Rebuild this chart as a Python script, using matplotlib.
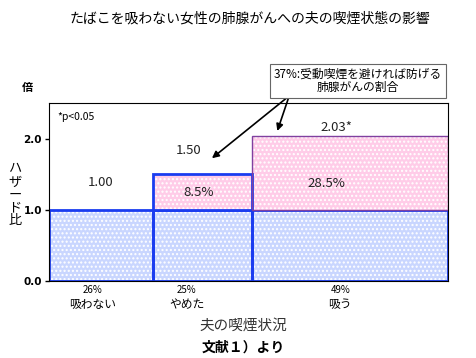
import matplotlib.pyplot as plt

plt.rcParams['font.family'] = ['Noto Sans CJK JP', 'DejaVu Sans']

# 夫の喫煙状況ごとの割合(棒の幅)とハザード比
groups = ["吸わない", "やめた", "吸う"]
shares = [26, 25, 49]
hazard = [1.00, 1.50, 2.03]
hazard_labels = ["1.00", "1.50", "2.03*"]
excess_labels = ["", "8.5%", "28.5%"]
share_labels = ["26%", "25%", "49%"]

fig = plt.figure(figsize=(4.77, 3.58), dpi=100)
ax = fig.add_axes([49 / 477, 1 - 281 / 358, 399 / 477, 178 / 358])

lefts = [sum(shares[:i]) for i in range(len(shares))]
base = [1.0] * len(shares)
extra = [h - 1.0 for h in hazard]

# 下段: 基準(1.0)部分
ax.bar(lefts, base, width=shares, align="edge", color="#c9d6ff", linewidth=0)
ax.bar(lefts, base, width=shares, align="edge", color="none", hatch="....",
       edgecolor="white", linewidth=0)
ax.bar(lefts, base, width=shares, align="edge", color="none", edgecolor="#1a3cf0", linewidth=2)

# 上段: 受動喫煙による増加分
ax.bar(lefts[1:], extra[1:], bottom=1.0, width=shares[1:], align="edge", color="#ffcce8", linewidth=0)
ax.bar(lefts[1:], extra[1:], bottom=1.0, width=shares[1:], align="edge", color="none", hatch="....",
       edgecolor="white", linewidth=0)
ax.bar(lefts[1:], extra[1:], bottom=1.0, width=shares[1:], align="edge", color="none",
       edgecolor=["#1a3cf0", "#8040a0"], linewidth=[2, 1])

ax.set_xlim(0, 100)
ax.set_ylim(0, 2.5)
ax.set_yticks([0.0, 1.0, 2.0])
ax.set_yticklabels(["0.0", "1.0", "2.0"], fontweight="bold", fontsize=7.5, family="DejaVu Sans")
ax.set_xticks([])
ax.tick_params(axis="y", length=3, width=1, pad=2)
for s in ax.spines.values():
    s.set_linewidth(0.8)

# ハザード比の数値
hx = [13, 35, 72]
hy = [1.38, 1.83, 2.15]
for x, y, t in zip(hx, hy, hazard_labels):
    ax.text(x, y, t, ha="center", va="center", fontsize=9.5, color="#222222")

ex = [0, 37.5, 69.5]
ey = [0, 1.25, 1.37]
for x, y, t in zip(ex, ey, excess_labels):
    if t:
        ax.text(x, y, t, ha="center", va="center", fontsize=9.5, color="#222222")

ax.text(2, 2.31, "*p<0.05", ha="left", va="center", fontsize=7.5)

# 下の割合と区分
lx = [11, 34.5, 73]
for x, s, g in zip(lx, share_labels, groups):
    ax.text(x, -0.12, s, ha="center", va="center", fontsize=7)
    ax.text(x, -0.33, g, ha="center", va="center", fontsize=8.5)

# 注釈と矢印
ax.annotate("", xy=(40.3, 1.70), xytext=(60.2, 2.6),
            arrowprops=dict(arrowstyle="-|>", color="black", lw=1.2, mutation_scale=10),
            annotation_clip=False)
ax.annotate("", xy=(57.0, 2.07), xytext=(60.2, 2.6),
            arrowprops=dict(arrowstyle="-|>", color="black", lw=1.2, mutation_scale=10),
            annotation_clip=False)
fig.text(358 / 477, 1 - 81 / 358, "37%:受動喫煙を避ければ防げる\n肺腺がんの割合",
         ha="center", va="center", fontsize=8.5, linespacing=1.05,
         bbox=dict(boxstyle="square,pad=0.3", facecolor="white", edgecolor="#666666", lw=0.8))

fig.text(250 / 477, 1 - 19 / 358, "たばこを吸わない女性の肺腺がんへの夫の喫煙状態の影響",
         ha="center", va="center", fontsize=10)
fig.text(27 / 477, 1 - 88 / 358, "倍", ha="center", va="center", fontsize=8, fontweight="bold")
fig.text(15 / 477, 1 - 195 / 358, "ハ\nザ\nー\nド\n比", ha="center", va="center",
         fontsize=9.5, linespacing=1.0)
fig.text(243 / 477, 1 - 326 / 358, "夫の喫煙状況", ha="center", va="center", fontsize=10.5, color="#333333")
fig.text(243 / 477, 1 - 348 / 358, "文献１）より", ha="center", va="center", fontsize=10, fontweight="bold")

fig.savefig("out.png", dpi=100)
